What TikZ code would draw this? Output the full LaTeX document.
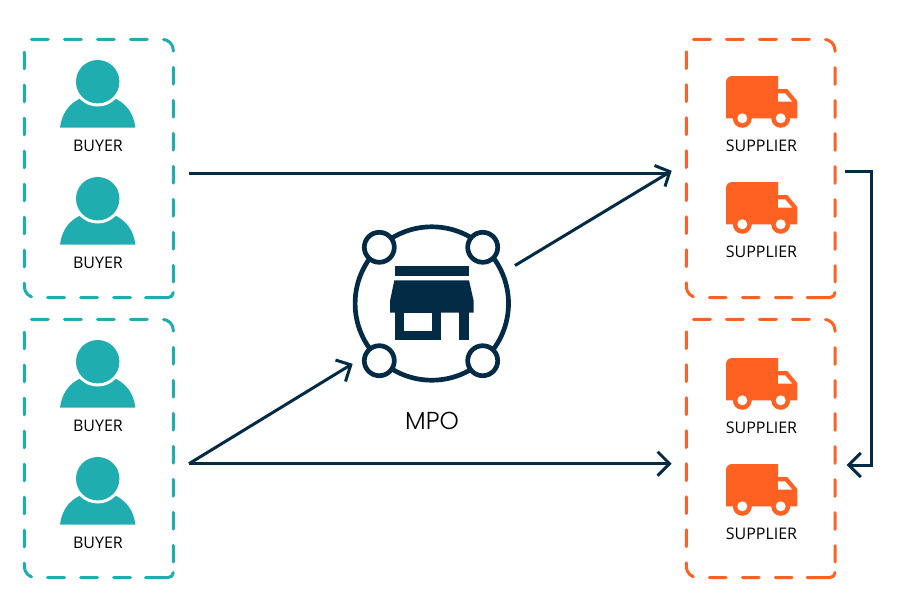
\documentclass[tikz,border=0pt]{standalone}
\usepackage{fontspec}
\setmainfont{Open Sans}
\newfontfamily\mpofont{Poppins Light}
\usetikzlibrary{arrows.meta}
\definecolor{navy}{HTML}{032B46}
\definecolor{teal2}{HTML}{20ADAF}
\definecolor{orange2}{HTML}{FF6122}
\tikzset{
  dbox/.style={line width=3pt,line cap=round,dash pattern=on 16.8pt off 16.2pt},
  sbox/.style={line width=3pt,line cap=round},
  wire/.style={navy,line width=3pt},
  conn/.style={wire,-{Straight Barb[length=12pt,width=24pt,line width=3pt]}},
  barb/.style={wire,line join=miter},
  lbl/.style={inner sep=0pt,font=\fontsize{16}{18}\selectfont,text=black},
  ring/.style={circle,draw=navy,fill=white,line width=4.7pt,minimum size=30pt,inner sep=0pt},
  person/.pic={
    \fill[teal2] (-37.7,46) .. controls (-36,32) and (-29,22.5) .. (-18,17) -- (18,17) .. controls (29,22.5) and (36,32) .. (37.7,46) -- cycle;
    \fill[white] (0,0) circle (24.8);
    \fill[teal2] (0,0) circle (21.7);
  },
  truck/.pic={
    \fill[orange2] (0,6) arc[start angle=180,end angle=270,radius=6] -- (52,0) -- (52,13) -- (61.3,13) -- (71.3,25) -- (71.3,42.3) -- (0,42.3) -- cycle;
    \fill[orange2] (16.3,42.3) circle (9.5) (54.7,42.3) circle (9.5);
    \fill[white] (16.3,42.3) circle (5) (54.7,42.3) circle (5);
    \fill[white] (52,17.3) -- (59,17.3) -- (66.3,25.7) -- (52,25.7) -- cycle;
  }
}
\newcommand{\dashedbox}[5]{% colour, x0, y0, x1, y1
  \draw[dbox,#1] (#2+7.2,#3) -- (#4-11,#3) arc[start angle=270,end angle=360,radius=11] -- (#4,#5-15.5);
  \draw[sbox,#1] (#4,#5-5) arc[start angle=0,end angle=90,radius=5] -- (#4-27.8,#5);
  \draw[dbox,#1] (#4-42.8,#5) -- (#2+11,#5) arc[start angle=90,end angle=180,radius=11] -- (#2,#3+11);
}
\begin{document}
\begin{tikzpicture}[x=1pt,y=-1pt]
\useasboundingbox (0,0) rectangle (901,606);
% boxes
\dashedbox{teal2}{24.3}{39.3}{173.3}{297.5}
\dashedbox{teal2}{24.3}{319.3}{173.3}{577.5}
\dashedbox{orange2}{686.3}{39.3}{835}{297.5}
\dashedbox{orange2}{686.3}{319.3}{835}{577.5}
% buyers
\foreach \y in {81.7,198.7,361.7,478.7} \pic at (97.7,\y) {person};
\node[lbl] (b1) at (98,145.5) {BUYER};
\node[lbl] (b2) at (98,262.5) {BUYER};
\node[lbl] (b3) at (98,425.5) {BUYER};
\node[lbl] (b4) at (98,542.5) {BUYER};
% suppliers
\foreach \y in {76,182,358,464} \pic at (726,\y) {truck};
\node[lbl] (s1) at (761.5,145.5) {SUPPLIER};
\node[lbl] (s2) at (761.5,251.5) {SUPPLIER};
\node[lbl] (s3) at (761.5,427.5) {SUPPLIER};
\node[lbl] (s4) at (761.5,533.5) {SUPPLIER};
% MPO icon
\node[circle,draw=navy,line width=4.7pt,minimum size=153.4pt,inner sep=0pt] (mpo) at (431.8,303.5) {};
\node[ring] (r1) at (379.3,247.3) {};
\node[ring] (r2) at (482.7,247.3) {};
\node[ring] (r3) at (379.3,360.7) {};
\node[ring] (r4) at (482.7,360.7) {};
\fill[navy] (394.7,266) rectangle (469,275.7);
\fill[navy] (394.3,280.3) -- (469,280.3) -- (473.7,301) -- (473.7,312.7) -- (390,312.7) -- (390,301) -- cycle;
\fill[navy] (394.7,312) rectangle (441.3,340.3);
\fill[navy] (459.3,312) rectangle (469,340.3);
\fill[white] (404,312.7) rectangle (431.7,331);
\node[inner sep=0pt,font=\mpofont\fontsize{24.5}{26}\selectfont,text=black] (mpolabel) at (432,420.5) {MPO};
% connectors
\coordinate (a1s) at (189,173);
\coordinate (a1e) at (669,173);
\coordinate (a2s) at (515,265.5);
\coordinate (a2e) at (669,172.5);
\coordinate (t1) at (669.8,171.6);
\coordinate (t1a) at (654.5,165.5);
\coordinate (t1b) at (665,186.5);
\coordinate (a3s) at (189,463.7);
\coordinate (a3e) at (350.8,364.8);
\coordinate (t2a) at (335.5,360);
\coordinate (t2b) at (345.5,381.5);
\coordinate (a4e) at (671.7,463.7);
\coordinate (a5s) at (845,171.7);
\coordinate (a5c1) at (871.3,171.7);
\coordinate (a5c2) at (871.3,465);
\coordinate (a5e) at (846.7,465);
\draw[wire] (a1s) -- (a1e);
\draw[wire] (a2s) -- (a2e);
\draw[barb] (t1a) -- (t1) -- (t1b);
\draw[wire] (a3s) -- (a3e);
\draw[barb] (t2a) -- (a3e) -- (t2b);
\draw[conn] (a3s) -- (a4e);
\draw[conn,line join=miter] (a5s) -- (a5c1) -- (a5c2) -- (a5e);
\end{tikzpicture}
\end{document}
